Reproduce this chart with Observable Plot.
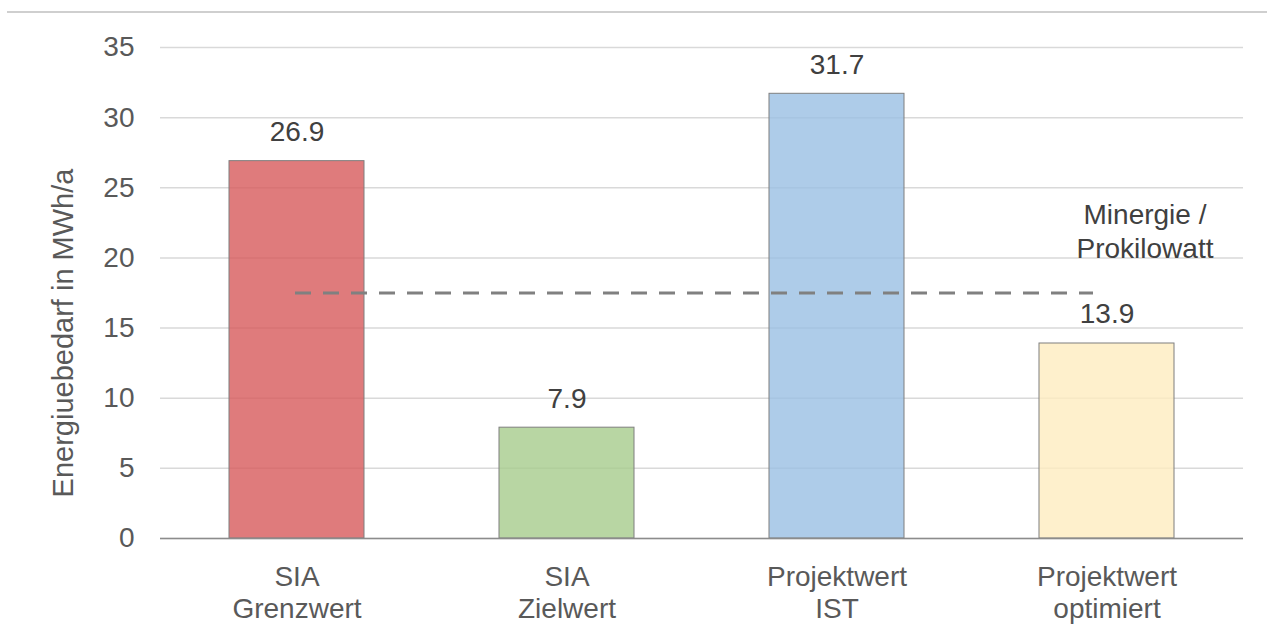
<!DOCTYPE html>
<html>
<head>
<meta charset="utf-8">
<script src="https://cdn.jsdelivr.net/npm/d3@7"></script>
<script src="https://cdn.jsdelivr.net/npm/@observablehq/plot@0.6"></script>
<style>
  html, body { margin: 0; padding: 0; background: #fff; }
  #wrap { position: relative; width: 1267px; height: 633px; }
  #topline { position: absolute; top: 11px; left: 7px; right: 0; height: 1.5px; background: #cfcfcf; }
  svg { font-family: "Liberation Sans", Arial, sans-serif; }
</style>
</head>
<body>
<div id="wrap"><div id="topline"></div></div>
<script>
const categories = ["SIA Grenzwert", "SIA Zielwert", "Projektwert IST", "Projektwert optimiert"];
const tickLabels = ["SIA\nGrenzwert", "SIA\nZielwert", "Projektwert\nIST", "Projektwert\noptimiert"];
const values = [26.9, 7.9, 31.7, 13.9];
const valueLabels = ["26.9", "7.9", "31.7", "13.9"];
const barColors = ["#d75a5b", "#a6cc8c", "#9abfe4", "#feecbf"];
const referenceValue = 17.5;
const referenceLabel = "Minergie /\nProkilowatt";
const yTicks = [0, 5, 10, 15, 20, 25, 30, 35];
const yLabel = "Energiuebedarf in MWh/a";

const data = categories.map((c, i) => ({cat: c, value: values[i], label: valueLabels[i], color: barColors[i], tick: tickLabels[i]}));

const chart = Plot.plot({
  width: 1267,
  height: 633,
  marginLeft: 160,
  marginRight: 24,
  marginTop: 47,
  marginBottom: 95,
  style: {fontFamily: "'Liberation Sans', Arial, sans-serif", background: "transparent"},
  x: {domain: categories, paddingInner: 0.5, paddingOuter: 0.25, axis: null},
  y: {domain: [0, 35], ticks: yTicks, tickSize: 0, tickPadding: 26, label: null, tickFormat: d => String(d)},
  marks: [
    Plot.gridY(yTicks, {stroke: "#d9d9d9", strokeOpacity: 1, strokeWidth: 1.5}),
    Plot.axisY({ticks: yTicks, tickSize: 0, tickPadding: 26, fontSize: 28, color: "#595959", label: null}),
    Plot.barY(data, {x: "cat", y: "value", fill: "color", fillOpacity: 0.8, stroke: "#7f7f7f", strokeWidth: 1}),
    Plot.ruleY([0], {stroke: "#8c8c8c", strokeWidth: 1.5}),
    Plot.text(data, {x: "cat", y: "value", text: "label", dy: -29, fontSize: 28, fill: "#404040"}),
    Plot.ruleY([referenceValue], {x1: () => categories[0], x2: () => categories[3], stroke: "#808080", strokeWidth: 3, strokeDasharray: "16,12", insetLeft: 66, insetRight: 81}),
    Plot.text([referenceLabel], {x: () => categories[3], y: () => referenceValue, dx: 38, dy: -93, lineAnchor: "top", text: d => d, fontSize: 28, fill: "#404040", lineHeight: 1.21}),
    Plot.text(data, {x: "cat", frameAnchor: "bottom", text: "tick", lineAnchor: "top", dy: 25, fontSize: 28, fill: "#595959", lineHeight: 1.143}),
    Plot.text([yLabel], {frameAnchor: "left", textAnchor: "middle", lineAnchor: "middle", text: d => d, rotate: -90, dx: -97, dy: 40, fontSize: 29, fill: "#595959"})
  ]
});
document.getElementById("wrap").appendChild(chart);
chart.style.position = "absolute";
chart.style.left = "0";
chart.style.top = "0";
</script>
</body>
</html>
